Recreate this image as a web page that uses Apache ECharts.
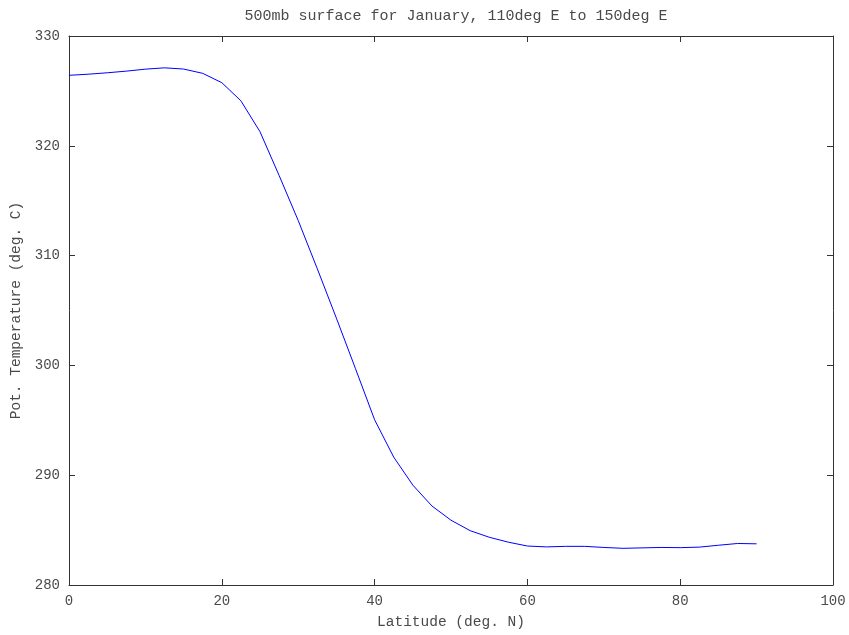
<!DOCTYPE html>
<html>
<head>
<meta charset="utf-8">
<script src="https://cdn.jsdelivr.net/npm/echarts@6/dist/echarts.min.js"></script>
<style>
  html, body { margin: 0; padding: 0; background: #fff; }
  #chart { width: 849px; height: 635px; }
</style>
</head>
<body>
<div id="chart"></div>
<script>
// Latitude (deg. N) of each sample
const latitudes = [0, 2.5, 5, 7.5, 10, 12.5, 15, 17.5, 20, 22.5, 25, 27.5, 30, 32.5, 35, 37.5,
  40, 42.5, 45, 47.5, 50, 52.5, 55, 57.5, 60, 62.5, 65, 67.5, 70, 72.5, 75, 77.5, 80, 82.5, 85, 87.5, 90];
// Potential temperature on the 500mb surface
const potTemp = [326.42, 326.52, 326.65, 326.8, 326.98, 327.1, 326.99, 326.6, 325.75, 324.1, 321.28, 317.3,
  313.2, 308.8, 304.3, 299.7, 295.05, 291.65, 289.1, 287.2, 285.9, 284.95, 284.35, 283.9, 283.55, 283.47,
  283.52, 283.52, 283.42, 283.34, 283.38, 283.42, 283.4, 283.45, 283.62, 283.78, 283.75];

const xTicks = { min: 0, max: 100, interval: 20 };
const yTicks = { min: 280, max: 330, interval: 10 };

const font = '"Liberation Mono", "DejaVu Sans Mono", monospace';
const axisColor = '#333';
const textColor = '#4a4a4a';

function axisBase(showLabels, extra) {
  return Object.assign({
    axisLine: { show: true, onZero: false, lineStyle: { color: axisColor, width: 1 } },
    axisTick: { show: true, inside: true, length: 6, lineStyle: { color: axisColor } },
    axisLabel: { show: showLabels, color: textColor, fontFamily: font, fontSize: 14, margin: 9 },
    splitLine: { show: false }
  }, extra);
}

const chart = echarts.init(document.getElementById('chart'), null, { renderer: 'canvas' });
chart.setOption({
  animation: false,
  backgroundColor: '#fff',
  title: {
    text: '500mb surface for January, 110deg E to 150deg E',
    left: 451, top: 4, textAlign: 'center',
    textStyle: { fontFamily: font, fontSize: 15, fontWeight: 'normal', color: textColor }
  },
  grid: { left: 69, right: 16, top: 36, bottom: 50, containLabel: false },
  xAxis: [
    axisBase(true, Object.assign({ type: 'value', position: 'bottom',
      name: 'Latitude (deg. N)', nameLocation: 'middle', nameGap: 30,
      nameTextStyle: { fontFamily: font, fontSize: 14.5, color: textColor } }, xTicks)),
    axisBase(false, Object.assign({ type: 'value', position: 'top' }, xTicks))
  ],
  yAxis: [
    axisBase(true, Object.assign({ type: 'value', position: 'left',
      name: 'Pot. Temperature (deg. C)', nameLocation: 'middle', nameGap: 39,
      nameTextStyle: { fontFamily: font, fontSize: 14.5, color: textColor } }, yTicks)),
    axisBase(false, Object.assign({ type: 'value', position: 'right' }, yTicks))
  ],
  series: [{
    type: 'line',
    xAxisIndex: 0, yAxisIndex: 0,
    data: latitudes.map((lat, i) => [lat, potTemp[i]]),
    showSymbol: false,
    lineStyle: { color: '#0000ff', width: 1 },
    smooth: false
  }]
});
</script>
</body>
</html>
